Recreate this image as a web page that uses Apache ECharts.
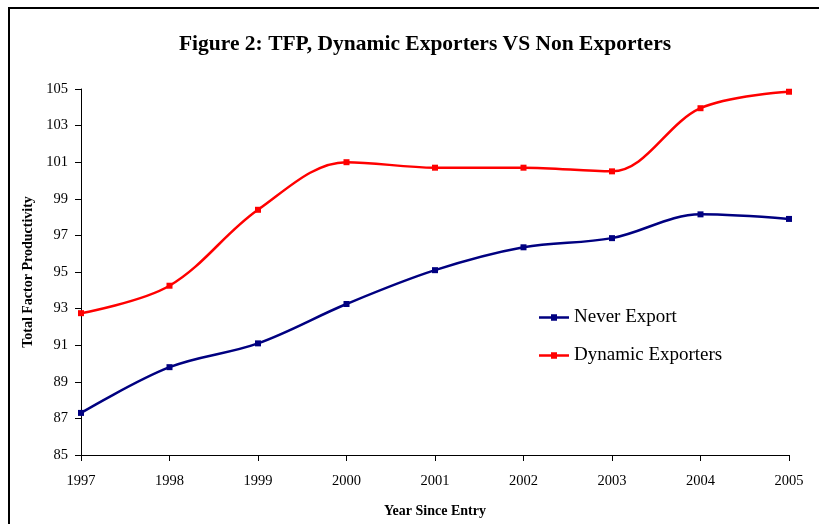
<!DOCTYPE html>
<html>
<head>
<meta charset="utf-8">
<script src="https://cdn.jsdelivr.net/npm/echarts@6/dist/echarts.min.js"></script>
<style>
  html, body { margin: 0; padding: 0; background: #fff; }
  #chart { width: 819px; height: 524px; }
</style>
</head>
<body>
<div id="chart"></div>
<script>
// data
const years = ['1997', '1998', '1999', '2000', '2001', '2002', '2003', '2004', '2005'];
const neverExport = [87.3, 89.8, 91.1, 93.25, 95.1, 96.35, 96.85, 98.15, 97.9];
const dynamicExporters = [92.75, 94.25, 98.4, 101.0, 100.7, 100.7, 100.5, 103.95, 104.85];

const serif = '"Liberation Serif", "DejaVu Serif", serif';
// legend glyph: thick line with a small square in the middle
const legendIcon = 'path://M0,3L12,3L12,1L18,1L18,3L30,3L30,5.5L18,5.5L18,7.5L12,7.5L12,5.5L0,5.5Z';

const chart = echarts.init(document.getElementById('chart'), null, { renderer: 'canvas' });

const option = {
  animation: false,
  backgroundColor: '#fff',
  title: {
    text: 'Figure 2: TFP, Dynamic Exporters VS Non Exporters',
    left: 420,
    top: 28,
    textAlign: 'center',
    textStyle: { fontFamily: serif, fontWeight: 'bold', fontSize: 21.5, color: '#000' }
  },
  graphic: [{
    type: 'rect',
    shape: { x: 9, y: 8, width: 830, height: 540 },
    style: { fill: 'none', stroke: '#000', lineWidth: 2 },
    silent: true
  }],
  legend: {
    orient: 'vertical',
    left: 534,
    top: 303,
    itemGap: 19,
    itemWidth: 30,
    itemHeight: 8,
    textStyle: { fontFamily: serif, fontSize: 19, color: '#000' },
    data: [
      { name: 'Never Export', icon: legendIcon },
      { name: 'Dynamic Exporters', icon: legendIcon }
    ]
  },
  grid: { left: 81, right: 30, top: 89, bottom: 69 },
  xAxis: {
    type: 'category',
    data: years,
    boundaryGap: false,
    name: 'Year Since Entry',
    nameLocation: 'middle',
    nameGap: 49,
    nameTextStyle: { fontFamily: serif, fontWeight: 'bold', fontSize: 14, color: '#000' },
    axisLine: { lineStyle: { color: '#000', width: 1 } },
    axisTick: { alignWithLabel: true, length: 6, inside: false, lineStyle: { color: '#000' } },
    axisLabel: { fontFamily: serif, fontSize: 14.5, color: '#000', margin: 19 },
    splitLine: { show: false }
  },
  yAxis: {
    type: 'value',
    min: 85,
    max: 105,
    interval: 2,
    name: 'Total Factor Productivity',
    nameLocation: 'middle',
    nameGap: 45,
    nameTextStyle: { fontFamily: serif, fontWeight: 'bold', fontSize: 14, color: '#000' },
    axisLine: { show: true, lineStyle: { color: '#000', width: 1 } },
    axisTick: { show: true, length: 6, lineStyle: { color: '#000' } },
    axisLabel: { fontFamily: serif, fontSize: 14.5, color: '#000', margin: 13 },
    splitLine: { show: false }
  },
  series: [
    {
      name: 'Never Export',
      type: 'line',
      data: neverExport,
      smooth: 0.35,
      symbol: 'rect',
      symbolSize: 6,
      color: '#000080',
      lineStyle: { width: 2.5, color: '#000080' },
      itemStyle: { color: '#000080' }
    },
    {
      name: 'Dynamic Exporters',
      type: 'line',
      data: dynamicExporters,
      smooth: 0.35,
      symbol: 'rect',
      symbolSize: 6,
      color: '#ff0000',
      lineStyle: { width: 2.5, color: '#ff0000' },
      itemStyle: { color: '#ff0000' }
    }
  ]
};

chart.setOption(option);
</script>
</body>
</html>
